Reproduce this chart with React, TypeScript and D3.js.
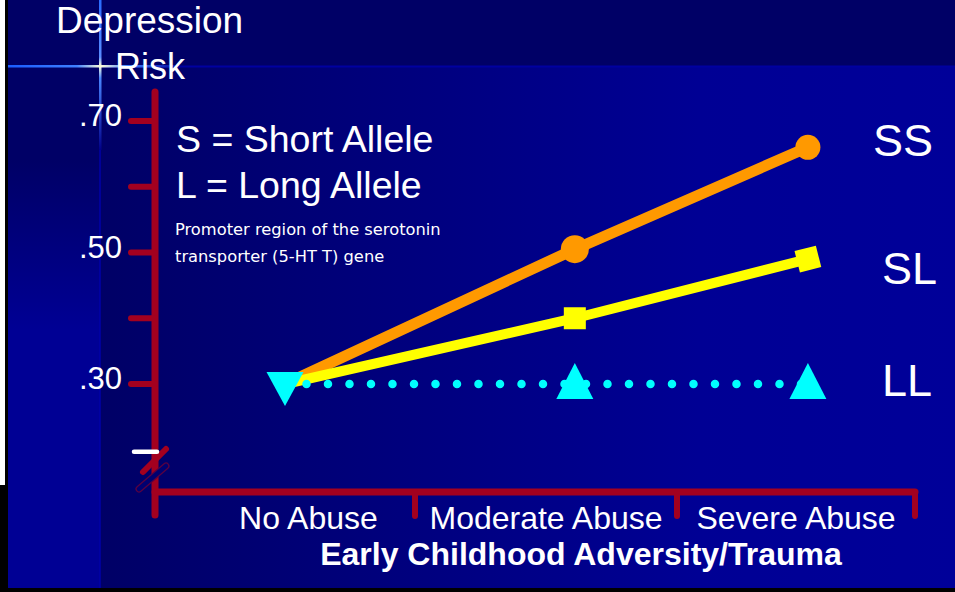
import React, { useEffect } from 'react';
import * as d3 from 'd3';

// values
const categories = ['No Abuse', 'Moderate Abuse', 'Severe Abuse'];
const categoryLabelAt = [0.59, 1.5, 2.5];
const pointAt = [0.5, 1.61, 2.55];
const ssRisk = [0.3, 0.505, 0.66];
const slRisk = [0.3, 0.4, 0.49];
const llRisk = [0.3, 0.3, 0.3];
const yTicks = [0.3, 0.4, 0.5, 0.6, 0.7];
const yTickLabels = ['.30', '', '.50', '', '.70'];
const breakValue = 0.2;
const seriesNames = ['SS', 'SL', 'LL'];
const seriesLabelAt = [0.647, 0.452, 0.282];

const W = 955;
const H = 592;
const RED = '#A3001F';
const FONT = '"Liberation Sans", Arial, sans-serif';

const App = () => {
  useEffect(() => {
    document.body.style.margin = '0';
  }, []);

  const x = d3.scaleLinear().domain([0, 1, 2, 3]).range([155, 415, 677, 915]);
  const y = d3.scaleLinear().domain([0.3, 0.7]).range([384, 121]);
  const x0 = x(0);
  const yBase = 492;

  const line = d3.line<number>()
    .x((d, i) => x(pointAt[i]))
    .y(d => y(d));

  const upTri = 'M0,-21L18.5,15L-18.5,15Z';
  const downTri = 'M-18.5,-12L18.5,-12L0,22Z';

  const slAngle = Math.atan2(y(slRisk[2]) - y(slRisk[1]), x(pointAt[2]) - x(pointAt[1])) * 180 / Math.PI;

  return (
    <svg width={W} height={H} style={{ position: 'absolute', left: 0, top: 0, display: 'block' }}>
      <defs>
        <linearGradient id="mainBg" x1="100" x2={W} y1="0" y2="0" gradientUnits="userSpaceOnUse">
          <stop offset="0" stopColor="#000066" />
          <stop offset="0.7" stopColor="#000094" />
          <stop offset="1" stopColor="#000099" />
        </linearGradient>
        <linearGradient id="leftBg" x1="0" x2="0" y1="160" y2="330" gradientUnits="userSpaceOnUse">
          <stop offset="0" stopColor="#000066" />
          <stop offset="1" stopColor="#000094" />
        </linearGradient>
        <linearGradient id="starV" x1="0" x2="0" y1="0" y2="150" gradientUnits="userSpaceOnUse">
          <stop offset="0" stopColor="#2a6cff" />
          <stop offset="0.38" stopColor="#5a8cff" />
          <stop offset="0.44" stopColor="#ffffd8" />
          <stop offset="0.52" stopColor="#4a86ff" />
          <stop offset="1" stopColor="#000088" />
        </linearGradient>
        <linearGradient id="starH" x1="8" x2="180" y1="0" y2="0" gradientUnits="userSpaceOnUse">
          <stop offset="0" stopColor="#1a5cff" />
          <stop offset="0.4" stopColor="#3f80ff" />
          <stop offset="0.54" stopColor="#ffffd8" />
          <stop offset="0.7" stopColor="#3f80ff" />
          <stop offset="1" stopColor="#000099" />
        </linearGradient>
      </defs>

      {/* background */}
      <rect x={0} y={0} width={W} height={H} fill="#000066" />
      <rect x={100} y={66} width={W - 100} height={H - 66} fill="url(#mainBg)" />
      <rect x={8} y={66} width={92} height={H - 66} fill="url(#leftBg)" />
      <line x1={100} x2={W} y1={66.5} y2={66.5} stroke="#0000a0" strokeWidth={2} />
      <line x1={100} x2={100} y1={150} y2={H} stroke="#0000a8" strokeWidth={1.5} />
      <rect x={0} y={0} width={5} height={485} fill="#ffffff" />
      <rect x={0} y={485} width={5} height={H - 485} fill="#000000" />
      <rect x={5} y={0} width={3} height={H} fill="#000000" />
      <rect x={0} y={588} width={W} height={4} fill="#000000" />

      {/* star */}
      <rect x={99} y={0} width={2.5} height={150} fill="url(#starV)" />
      <rect x={8} y={65} width={172} height={2.5} fill="url(#starH)" />

      {/* title */}
      <text x={56} y={33} fill="#fff" fontFamily={FONT} fontSize={37}>Depression</text>
      <text x={115} y={79} fill="#fff" fontFamily={FONT} fontSize={36}>Risk</text>

      {/* y axis */}
      <line x1={x0} x2={x0} y1={92} y2={515} stroke={RED} strokeWidth={7} strokeLinecap="round" />
      {yTicks.map((t, i) => (
        <g key={t}>
          <line x1={131} x2={x0} y1={y(t)} y2={y(t)} stroke={RED} strokeWidth={6} strokeLinecap="round" />
          {yTickLabels[i] && (
            <text x={122} y={y(t) + 5} textAnchor="end" fill="#fff" fontFamily={FONT} fontSize={31}>
              {yTickLabels[i]}
            </text>
          )}
        </g>
      ))}

      {/* axis break */}
      <line x1={139} x2={166} y1={489} y2={466} stroke="#5a0040" strokeWidth={7} strokeLinecap="round" />
      <line x1={139} x2={166} y1={489} y2={466} stroke="#000070" strokeWidth={4.5} strokeLinecap="round" />
      <line x1={143} x2={166} y1={472} y2={449} stroke={RED} strokeWidth={6} strokeLinecap="round" />
      <line x1={134} x2={157} y1={y(breakValue) + 2} y2={y(breakValue) + 2} stroke="#fff" strokeWidth={4.5} strokeLinecap="round" />

      {/* x axis */}
      <line x1={x0} x2={x(3)} y1={yBase} y2={yBase} stroke={RED} strokeWidth={7} strokeLinecap="round" />
      {[1, 2, 3].map(t => (
        <line key={t} x1={x(t)} x2={x(t)} y1={yBase} y2={516} stroke={RED} strokeWidth={6} strokeLinecap="round" />
      ))}
      {categories.map((c, i) => (
        <text key={c} x={x(categoryLabelAt[i])} y={529} textAnchor="middle" fill="#fff" fontFamily={FONT} fontSize={32}>
          {c}
        </text>
      ))}
      <text x={581} y={565} textAnchor="middle" fill="#fff" fontFamily={FONT} fontSize={32} fontWeight="bold">
        Early Childhood Adversity/Trauma
      </text>

      {/* legend text */}
      <text x={176} y={152} fill="#fff" fontFamily={FONT} fontSize={37.5}>S = Short Allele</text>
      <text x={176} y={198} fill="#fff" fontFamily={FONT} fontSize={37.5}>L = Long Allele</text>
      <text x={175} y={235} fill="#fff" fontFamily='"DejaVu Sans", sans-serif' fontSize={16.3}>Promoter region of the serotonin</text>
      <text x={175} y={262} fill="#fff" fontFamily='"DejaVu Sans", sans-serif' fontSize={16.3}>transporter (5-HT T) gene</text>

      {/* series lines */}
      <path d={line(ssRisk) || ''} fill="none" stroke="#FF9900" strokeWidth={11} />
      <path d={line(slRisk) || ''} fill="none" stroke="#FFFF00" strokeWidth={10} />
      <path d={line(llRisk) || ''} fill="none" stroke="#00FFFF" strokeWidth={8.5}
        strokeDasharray="0 21.5" strokeLinecap="round" />

      {/* markers */}
      {ssRisk.slice(1).map((v, i) => (
        <circle key={i} cx={x(pointAt[i + 1])} cy={y(v)} r={i === 0 ? 14 : 12.5} fill="#FF9900" />
      ))}
      {slRisk.slice(1).map((v, i) => (
        <rect key={i} x={-11} y={-11} width={22} height={22} fill="#FFFF00"
          transform={`translate(${x(pointAt[i + 1])},${y(v)}) rotate(${i === 1 ? slAngle : 0})`} />
      ))}
      {llRisk.slice(1).map((v, i) => (
        <path key={i} d={upTri} fill="#00FFFF" transform={`translate(${x(pointAt[i + 1])},${y(v)})`} />
      ))}
      <path d={downTri} fill="#00FFFF" transform={`translate(${x(pointAt[0])},${y(llRisk[0])})`} />

      {/* series names */}
      {seriesNames.map((n, i) => (
        <text key={n} x={i === 0 ? 873 : 882} y={y(seriesLabelAt[i])} fill="#fff" fontFamily={FONT} fontSize={45}>
          {n}
        </text>
      ))}
    </svg>
  );
};

export default App;
